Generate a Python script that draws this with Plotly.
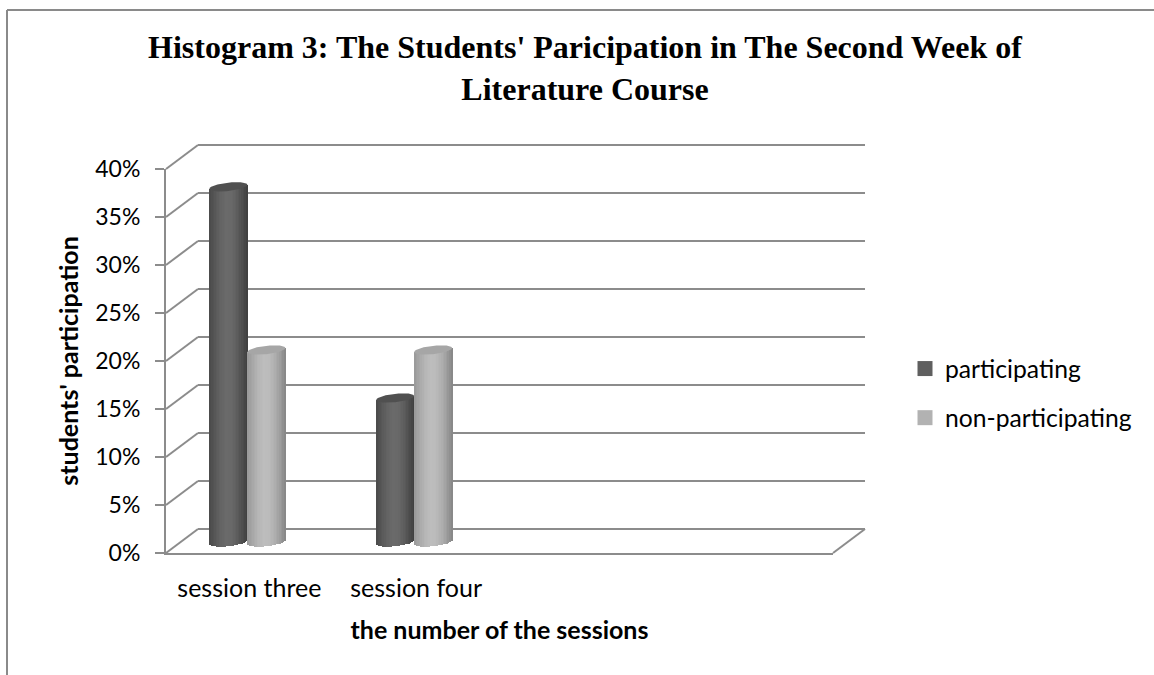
import math
import plotly.graph_objects as go

# ---- data ----
categories = ["session three", "session four"]
series_names = ["participating", "non-participating"]
participating = [37, 15]
non_participating = [20, 20]
y_ticks = [0, 5, 10, 15, 20, 25, 30, 35, 40]
y_tick_labels = ["0%", "5%", "10%", "15%", "20%", "25%", "30%", "35%", "40%"]
title_text = "<b>Histogram 3: The Students' Paricipation in The Second Week of<br>Literature Course</b>"
x_title = "the number of the sessions"
y_title = "students' participation"

# ---- geometry (pixels on the 1154x675 page) ----
W, H = 1154, 675
FX0, FX1, FY0, FY1 = 166, 833, 553, 169     # front plane
DX, DY = 32, 24                             # depth shift of the back wall
SLOTS = 4
px_x = SLOTS / (FX1 - FX0)                  # axis units per pixel
px_y = 40 / (FY0 - FY1)

GRID = "#8c8c8c"
TEXT = "#000000"
SANS = "Lato, 'Open Sans', sans-serif"

dark_stops = ["#4a4a4a", "#575757", "#636363", "#6a6a6a", "#696969", "#5f5f5f", "#4f4f4f", "#3f3f3f"]
light_stops = ["#999999", "#a8a8a8", "#b6b6b6", "#bdbdbd", "#bbbbbb", "#b0b0b0", "#9e9e9e", "#858585"]
series_cfg = [
    (series_names[0], participating, dark_stops, "#505050", "#5f5f5f", -1),
    (series_names[1], non_participating, light_stops, "#a6a6a6", "#b2b2b2", 0),
]

BAR_W = 38 * px_x
PAIR_SHIFT = -2 * px_x
BASE_LIFT = 11 * px_y
CAP_H = 4.2 * px_y
CAP_TILT = 2.0 * px_y
N_STRIPS = 24
OVERLAP = 0.5 * px_x
BACK_PAD = 2 * px_y      # keeps the first and last wall lines inside the axis range


def hex2rgb(c):
    return tuple(int(c[i:i + 2], 16) for i in (1, 3, 5))


def ramp(stops, t):
    p = t * (len(stops) - 1)
    i = min(int(p), len(stops) - 2)
    f = p - i
    a, b = hex2rgb(stops[i]), hex2rgb(stops[i + 1])
    return "rgb(%d,%d,%d)" % tuple(round(a[k] + (b[k] - a[k]) * f) for k in range(3))


fig = go.Figure()

# back wall subplot (drawn first, so it lies behind the columns)
fig.add_trace(go.Scatter(x=[None], y=[None], xaxis="x", yaxis="y", showlegend=False, hoverinfo="skip"))

centers = [i + 0.5 for i in range(len(categories))]

for name, values, stops, cap_col, key_col, side in series_cfg:
    left = side * BAR_W + PAIR_SHIFT
    # cylinder body: thin strips whose ends follow the elliptical base and cap
    for s in range(N_STRIPS):
        t = (s + 0.5) / N_STRIPS
        u = 2 * t - 1
        arc = math.sqrt(1 - u * u)
        bases = [BASE_LIFT + CAP_TILT * u - CAP_H * arc for _ in values]
        tops = [v + BASE_LIFT + CAP_TILT * u for v in values]
        fig.add_trace(go.Bar(
            x=centers, y=[tp - b for tp, b in zip(tops, bases)], base=bases,
            width=BAR_W / N_STRIPS + OVERLAP, offset=left + BAR_W * s / N_STRIPS,
            marker=dict(color=ramp(stops, t), line=dict(width=0)),
            xaxis="x2", yaxis="y2", showlegend=False, hoverinfo="skip"))
    # elliptical caps
    for c, v in zip(centers, values):
        ex, ey = [], []
        for k in range(73):
            a = 2 * math.pi * k / 72
            u = math.cos(a)
            ex.append(c + left + BAR_W / 2 + BAR_W / 2 * u)
            ey.append(v + BASE_LIFT + CAP_TILT * u + CAP_H * math.sin(a))
        fig.add_trace(go.Scatter(x=ex, y=ey, mode="lines", fill="toself", fillcolor=cap_col,
                                 line=dict(width=0, color=cap_col), xaxis="x2", yaxis="y2",
                                 cliponaxis=False, showlegend=False, hoverinfo="skip"))
    # legend key
    fig.add_trace(go.Scatter(x=[None], y=[None], mode="markers", name=name, legendgroup=name,
                             marker=dict(symbol="square", size=15, color=key_col),
                             xaxis="x2", yaxis="y2"))

# frame and side-wall diagonals (paper coordinates derived from the axis ticks)
shapes = [
    dict(type="line", xref="paper", yref="paper", x0=7 / W, x1=1, y0=1 - 10 / H, y1=1 - 10 / H,
         line=dict(color="#8a8a8a", width=2)),
    dict(type="line", xref="paper", yref="paper", x0=7 / W, x1=7 / W, y0=0, y1=1 - 10 / H,
         line=dict(color="#8a8a8a", width=2)),
]
for t in y_ticks:
    y_front = FY0 + (FY1 - FY0) * t / 40
    shapes.append(dict(type="line", xref="paper", yref="paper", layer="below",
                       x0=FX0 / W, x1=(FX0 + DX) / W,
                       y0=1 - y_front / H, y1=1 - (y_front - DY) / H,
                       line=dict(color=GRID, width=2)))
shapes.append(dict(type="line", xref="paper", yref="paper", layer="below",
                   x0=FX1 / W, x1=(FX1 + DX) / W,
                   y0=1 - FY0 / H, y1=1 - (FY0 - DY) / H,
                   line=dict(color=GRID, width=2)))

fig.update_layout(
    width=W, height=H,
    margin=dict(l=0, r=0, t=0, b=0, pad=0, autoexpand=False),
    paper_bgcolor="white", plot_bgcolor="rgba(0,0,0,0)",
    barmode="overlay", bargap=0,
    font=dict(family=SANS, color=TEXT),
    title=dict(text=title_text, x=585 / W, xanchor="center", y=1 - 58 / H, yanchor="top",
               font=dict(family="Liberation Serif", size=32, color=TEXT)),
    xaxis=dict(domain=[(FX0 + DX) / W, (FX1 + DX) / W], range=[0, SLOTS], anchor="y", automargin=False,
               showgrid=False, zeroline=False, showline=False, showticklabels=False, ticks=""),
    yaxis=dict(domain=[(H - (FY0 - DY) - 2) / H, (H - (FY1 - DY) + 2) / H],
               range=[-BACK_PAD, 40 + BACK_PAD], anchor="x", automargin=False,
               tickmode="array", tickvals=y_ticks, showticklabels=False, ticks="",
               showgrid=True, gridcolor=GRID, gridwidth=2, zeroline=False, showline=False),
    xaxis2=dict(domain=[FX0 / W, FX1 / W], range=[0, SLOTS], anchor="y2", automargin=False,
                tickmode="array", tickvals=centers, ticktext=categories, ticks="",
                ticklabelstandoff=12,
                tickfont=dict(family=SANS, size=25, color=TEXT),
                showgrid=False, zeroline=False, showline=True, linecolor=GRID, linewidth=2,
                title=dict(text="<b>" + x_title + "</b>", font=dict(family=SANS, size=25, color=TEXT), standoff=20)),
    yaxis2=dict(domain=[(H - FY0) / H, (H - FY1) / H], range=[0, 40], anchor="x2", automargin=False,
                tickmode="array", tickvals=y_ticks, ticktext=y_tick_labels,
                ticks="outside", ticklen=9, tickwidth=2, tickcolor=GRID, ticklabelstandoff=10,
                tickfont=dict(family=SANS, size=23, color=TEXT),
                showgrid=False, zeroline=False, showline=True, linecolor=GRID, linewidth=2,
                title=dict(text="<b>" + y_title + "</b>", font=dict(family=SANS, size=25, color=TEXT), standoff=10)),
    legend=dict(x=905 / W, y=1 - 346 / H, xanchor="left", yanchor="top", bgcolor="rgba(0,0,0,0)",
                font=dict(family=SANS, size=24.7, color=TEXT), tracegroupgap=14, traceorder="grouped"),
    shapes=shapes,
)

fig.write_html("out.html", config={"displayModeBar": False}, post_script="document.body.style.margin='0';")
